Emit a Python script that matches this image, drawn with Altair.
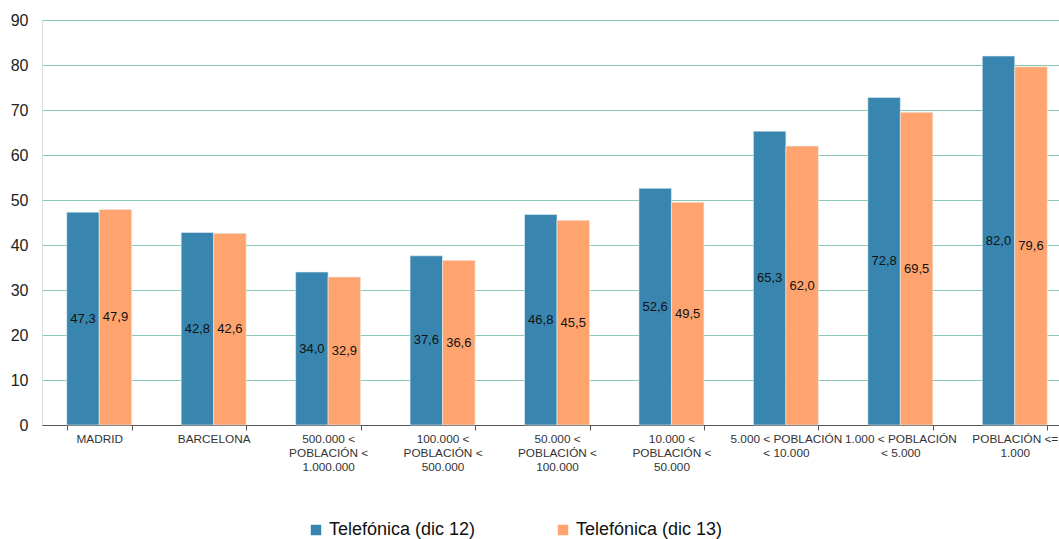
import altair as alt
import pandas as pd

categories = [
    "MADRID",
    "BARCELONA",
    "500.000 <\nPOBLACIÓN <\n1.000.000",
    "100.000 <\nPOBLACIÓN <\n500.000",
    "50.000 <\nPOBLACIÓN <\n100.000",
    "10.000 <\nPOBLACIÓN <\n50.000",
    "5.000 < POBLACIÓN\n< 10.000",
    "1.000 < POBLACIÓN\n< 5.000",
    "POBLACIÓN <=\n1.000",
]
series = ["Telefónica (dic 12)", "Telefónica (dic 13)"]
dic12 = [47.3, 42.8, 34.0, 37.6, 46.8, 52.6, 65.3, 72.8, 82.0]
dic13 = [47.9, 42.6, 32.9, 36.6, 45.5, 49.5, 62.0, 69.5, 79.6]
colors = ["#3886B0", "#FFA46F"]

rows = []
for c, a, b in zip(categories, dic12, dic13):
    rows.append({"cat": c, "serie": series[0], "value": a})
    rows.append({"cat": c, "serie": series[1], "value": b})
df = pd.DataFrame(rows)

FONT = "Liberation Sans"

x = alt.X(
    "cat:N",
    sort=categories,
    title=None,
    scale=alt.Scale(paddingInner=0.432, paddingOuter=0.216, range=[0, 1030]),
    axis=alt.Axis(
        labelAngle=0,
        labelExpr="datum.value ? split(datum.value, '\\n') : ''",
        labelFontSize=11.8,
        labelColor="#333333",
        labelFont=FONT,
        labelLineHeight=14,
        labelPadding=3,
        tickBand="extent",
        tickSize=5,
        tickColor="#555555",
        domainColor="#555555",
        labelLimit=200,
        grid=False,
    ),
)
xoff = alt.XOffset("serie:N", sort=series)

base = alt.Chart(df)

bars = base.mark_bar(stroke="#e8f0f4", strokeWidth=0.6).encode(
    x=x,
    xOffset=xoff,
    y=alt.Y(
        "value:Q",
        title=None,
        scale=alt.Scale(domain=[0, 90], nice=False),
        axis=alt.Axis(
            values=list(range(0, 100, 10)),
            labelFontSize=16,
            labelFont=FONT,
            labelColor="#222222",
            labelPadding=14,
            ticks=False,
            domain=False,
            gridColor="#8CC8B8",
            gridWidth=1,
        ),
    ),
    color=alt.Color(
        "serie:N",
        sort=series,
        scale=alt.Scale(domain=series, range=colors),
        legend=alt.Legend(
            title=None,
            orient="none",
            direction="horizontal",
            legendX=265,
            legendY=501,
            symbolType="square",
            symbolSize=110,
            symbolStrokeWidth=0,
            labelFontSize=18,
            labelFont=FONT,
            labelColor="#111111",
            columnPadding=78,
            labelOffset=4,
        ),
    ),
)

labels = base.transform_calculate(
    mid="datum.value / 2",
    txt="replace(format(datum.value, '.1f'), '.', ',')",
).mark_text(fontSize=13, font=FONT, color="#111111").encode(
    x=alt.X("cat:N", sort=categories),
    xOffset=xoff,
    y=alt.Y("mid:Q"),
    text="txt:N",
)

chart = (
    alt.layer(bars, labels)
    .properties(
        width=1017,
        height=405,
        autosize=alt.AutoSizeParams(type="none"),
        padding={"left": 42, "top": 20, "right": 0, "bottom": 114},
    )
    .configure_view(stroke=None)
    .configure(background="white")
)

chart.save("out.html", embed_options={"renderer": "svg", "actions": False})
